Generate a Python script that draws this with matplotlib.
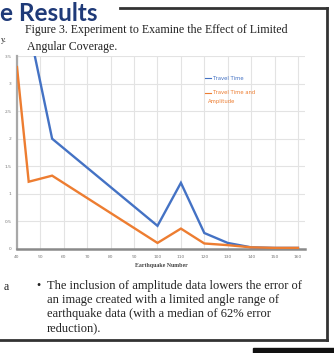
import matplotlib
matplotlib.use("Agg")
import matplotlib.pyplot as plt
from matplotlib.lines import Line2D
from matplotlib.patches import Rectangle

# ---- data ----
angles = [40, 45, 55, 100, 110, 120, 130, 140, 150, 160]
travel_time = [5.0, 4.03, 2.0, 0.42, 1.2, 0.29, 0.11, 0.03, 0.02, 0.02]
travel_time_amp = [3.30, 1.22, 1.33, 0.11, 0.37, 0.10, 0.07, 0.03, 0.02, 0.02]
x_ticks = [40, 50, 60, 70, 80, 90, 100, 110, 120, 130, 140, 150, 160]
y_ticks = [0, 0.5, 1, 1.5, 2, 2.5, 3, 3.5]
y_tick_labels = ["0", "0.5", "1", "1.5", "2", "2.5", "3", "3.5"]
series_names = ["Travel Time", "Travel Time and\nAmplitude"]

W, H = 334, 353
fig = plt.figure(figsize=(W / 100, H / 100), dpi=100)
fig.patch.set_facecolor("white")

def fx(px):
    return px / W

def fy(py):
    return 1 - py / H

blue = "#4472C4"
orange = "#ED7D31"

ax = fig.add_axes([fx(17), fy(249), fx(305) - fx(17), fy(56) - fy(249)])
ax.plot(angles, travel_time, color=blue, lw=1.7, solid_joinstyle="miter", zorder=3)
ax.plot(angles, travel_time_amp, color=orange, lw=1.7, solid_joinstyle="miter", zorder=3)
ax.set_xlim(40, 163)
ax.set_ylim(0, 3.5)
ax.set_xticks(x_ticks)
ax.set_xticklabels([str(v) for v in x_ticks], fontsize=3.2, color="#777777")
ax.set_yticks(y_ticks)
ax.set_yticklabels(y_tick_labels, fontsize=3.2, color="#777777")
ax.tick_params(length=0, pad=4)
ax.grid(True, color="#e3e3e3", lw=0.8)
ax.set_axisbelow(True)
for s in ["top", "right"]:
    ax.spines[s].set_visible(False)
ax.spines["left"].set_color("#a8a8a8")
ax.spines["left"].set_linewidth(1.6)
ax.spines["bottom"].set_color("#8a8a8a")
ax.spines["bottom"].set_linewidth(1.8)
ax.set_xlabel("Earthquake Number", fontsize=4.2, color="#444444", labelpad=3,
              fontfamily="Liberation Serif", fontweight="bold")

# legend as text
fig.add_artist(Line2D([fx(205), fx(211)], [fy(78), fy(78)], color=blue, lw=0.8))
fig.text(fx(213), fy(78), series_names[0], fontsize=3.8, color=blue, va="center")
fig.add_artist(Line2D([fx(205), fx(211)], [fy(93), fy(93)], color=orange, lw=0.8))
fig.text(fx(213), fy(93), series_names[1].split("\n")[0], fontsize=3.8, color=orange, va="center")
fig.text(fx(208), fy(101), series_names[1].split("\n")[1], fontsize=3.8, color=orange, va="center")

# title fragment
fig.text(fx(0), fy(21), "e Results", fontsize=17.5, fontweight="bold", color="#1F3A78",
         fontfamily="Lato", va="baseline", ha="left")

# frame
frame = "#333333"
fig.add_artist(Line2D([fx(120), fx(327)], [fy(8), fy(8)], color=frame, lw=2))
fig.add_artist(Line2D([fx(327), fx(327)], [fy(8), fy(340)], color=frame, lw=2))
fig.add_artist(Line2D([fx(0), fx(327)], [fy(340), fy(340)], color=frame, lw=2))
fig.add_artist(Rectangle((fx(253), 0), fx(334) - fx(253), fy(348), color="#111111"))

serif = "Liberation Serif"
fig.text(fx(25), fy(30), "Figure 3. Experiment to Examine the Effect of Limited",
         fontsize=8.6, fontfamily=serif, color="#222222", va="center")
fig.text(fx(27), fy(47), "Angular Coverage.", fontsize=8.6, fontfamily=serif,
         color="#222222", va="center")
fig.text(fx(1), fy(40), "y.", fontsize=6, fontfamily=serif, color="#222222", va="center")
fig.text(fx(4), fy(287), "a", fontsize=8.6, fontfamily=serif, color="#222222", va="center")

bullet_lines = [
    "The inclusion of amplitude data lowers the error of",
    "an image created with a limited angle range of",
    "earthquake data (with a median of 62% error",
    "reduction).",
]
fig.text(fx(36), fy(286), "\u2022", fontsize=8.6, fontfamily=serif, color="#222222", va="center")
for i, line in enumerate(bullet_lines):
    fig.text(fx(47), fy(286 + 14 * i), line, fontsize=9.0, fontfamily=serif,
             color="#222222", va="center")

fig.savefig("out.png", dpi=100, facecolor="white")
